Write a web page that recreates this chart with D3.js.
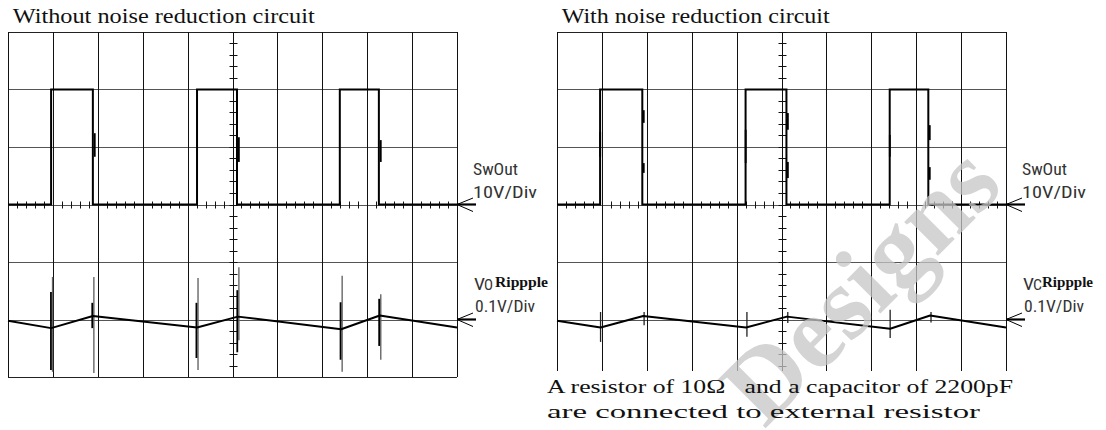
<!DOCTYPE html>
<html>
<head>
<meta charset="utf-8">
<script src="https://cdn.jsdelivr.net/npm/d3@7/dist/d3.min.js"></script>
<style>
  html, body { margin: 0; padding: 0; background: #fff; }
  svg { display: block; }
</style>
</head>
<body>
<svg id="chart" width="1106" height="430"></svg>
<script>
// ---------------- data ----------------
const panelTitles = ["Without noise reduction circuit", "With noise reduction circuit"];
const channelLabels = ["SwOut", "10V/Div", "Rippple", "0.1V/Div"];
const rippleSubscripts = ["O", "C"];
const noteLines = ["A resistor of 10\u03A9\u00A0\u00A0 and a capacitor of 2200pF", "are connected to external resistor"];
const watermarkText = "Designs";

// SwOut switching instants (time in divisions) – alternating rise / fall
const swEdgesLeft  = [0.96, 1.89, 4.21, 5.10, 7.39, 8.26];
const swEdgesRight = [0.96, 1.90, 4.20, 5.11, 7.41, 8.27];
const swHighVolt = 20;
const swLowVolt = 0;

// SwOut small edge glitches: time (div), upper / lower volts
const swGlitchTLeft  = [1.91, 5.12, 8.28];
const swGlitchHiLeft = [12.4, 11.7, 11.2];
const swGlitchLoLeft = [8.3, 7.4, 7.4];
const swGlitchTRight  = [0.94, 1.91, 1.91, 4.18, 5.12, 5.12, 7.39, 8.28, 8.28];
const swGlitchHiRight = [12.6, 16.4, 7.2, 13.0, 15.9, 7.4, 12.1, 13.8, 6.5];
const swGlitchLoRight = [8.3, 14.2, 5.5, 7.2, 13.0, 4.6, 8.3, 11.2, 4.3];

// Output ripple (mV) vs time (div)
const rippleTLeft   = [0, 0.96, 1.89, 4.21, 5.12, 7.42, 8.28, 10];
const rippleMvLeft  = [-2, -15, 6, -14, 5, -17, 7, -14];
const rippleTRight  = [0, 0.97, 1.92, 4.21, 5.12, 7.42, 8.31, 10];
const rippleMvRight = [-2, -14, 6, -14, 5, -16, 7, -14];

// Switching spikes on ripple (mV)
const spikeTLeft       = [0.97, 1.89, 4.21, 5.12, 7.42, 8.28];
const spikeGreyHiLeft  = [74, 74, 72, 91, 76, 44];
const spikeGreyLoLeft  = [-91, -93, -88, -36, -91, -70];
const spikeBlackHiLeft = [48, 29, 29, 51, 30, 36];
const spikeBlackLoLeft = [-88, -15, -67, -57, -70, -46];
const spikeTRight      = [0.97, 1.94, 4.23, 5.14, 7.42, 8.33];
const spikeHiRight     = [13, 13, 13, 13, 17, 13];
const spikeLoRight     = [-39, -10, -30, -6, -32, -5];

// ---------------- drawing ----------------
const svg = d3.select("#chart");
svg.append("rect").attr("width", 1106).attr("height", 430).attr("fill", "#fff");

const serif = "'Times New Roman', 'Liberation Serif', Tinos, Times, serif";
const narrow = "'Arial Narrow', 'Liberation Sans Narrow', 'Roboto Condensed', 'DejaVu Sans Condensed', sans-serif";

const panels = [
  { x0: 8, title: panelTitles[0], titleX: 12.7, titleW: 302, bottom: 377, border: true,
    edges: swEdgesLeft, gT: swGlitchTLeft, gHi: swGlitchHiLeft, gLo: swGlitchLoLeft,
    rT: rippleTLeft, rV: rippleMvLeft, sub: rippleSubscripts[0] },
  { x0: 557, title: panelTitles[1], titleX: 561.7, titleW: 268, bottom: 371, border: false,
    edges: swEdgesRight, gT: swGlitchTRight, gHi: swGlitchHiRight, gLo: swGlitchLoRight,
    rT: rippleTRight, rV: rippleMvRight, sub: rippleSubscripts[1] }
];

const gridTop = 32, fullBottom = 377, gridWidth = 449;

panels.forEach((p, pi) => {
  const g = svg.append("g");
  const x = d3.scaleLinear().domain([0, 10]).range([p.x0, p.x0 + gridWidth]);
  const yDiv = d3.scaleLinear().domain([-3, 3]).range([fullBottom, gridTop]);
  const ySw = d3.scaleLinear().domain([-30, 30]).range([fullBottom, gridTop]);     // 10 V/div
  const yRip = d3.scaleLinear().domain([-100, 500]).range([fullBottom, gridTop]);  // 0.1 V/div, ground at -2 div

  // title
  g.append("text").attr("x", p.titleX).attr("y", 23)
    .attr("font-family", serif).attr("font-size", 21).attr("fill", "#111")
    .attr("textLength", p.titleW).attr("lengthAdjust", "spacingAndGlyphs")
    .text(p.title);

  // horizontal grid
  const hDivs = d3.range(-3, 3.001, 1).filter(d => p.border || d > -3);
  g.selectAll(".hg").data(hDivs).enter().append("line")
    .attr("x1", x(0)).attr("x2", x(10))
    .attr("y1", d => Math.round(yDiv(d)) + 0.5).attr("y2", d => Math.round(yDiv(d)) + 0.5)
    .attr("stroke", d => (d === 3 || d === -3) ? "#222" : "#555").attr("stroke-width", 1.2);

  // vertical grid
  g.selectAll(".vg").data(x.ticks(10)).enter().append("line")
    .attr("x1", d => Math.round(x(d)) + 0.5).attr("x2", d => Math.round(x(d)) + 0.5)
    .attr("y1", gridTop).attr("y2", p.bottom)
    .attr("stroke", "#111").attr("stroke-width", 1);

  // minor ticks: center vertical axis
  const cx = Math.round(x(5)) + 0.5;
  g.selectAll(".mtv").data(d3.range(-3, 3.001, 0.2).filter(d => yDiv(d) <= p.bottom - 3)).enter().append("line")
    .attr("x1", cx - 4).attr("x2", cx + 4)
    .attr("y1", d => Math.round(yDiv(d)) + 0.5).attr("y2", d => Math.round(yDiv(d)) + 0.5)
    .attr("stroke", "#111").attr("stroke-width", 1);
  // minor ticks: center horizontal axis
  const cy = Math.round(yDiv(0)) + 0.5;
  g.selectAll(".mth").data(d3.range(0, 10.001, 0.2)).enter().append("line")
    .attr("x1", d => Math.round(x(d)) + 0.5).attr("x2", d => Math.round(x(d)) + 0.5)
    .attr("y1", cy - 4).attr("y2", cy + 3)
    .attr("stroke", "#111").attr("stroke-width", 1);

  // SwOut trace
  const swPts = [[0, swLowVolt]];
  p.edges.forEach((t, i) => {
    const from = i % 2 === 0 ? swLowVolt : swHighVolt;
    const to = i % 2 === 0 ? swHighVolt : swLowVolt;
    swPts.push([t, from], [t, to]);
  });
  swPts.push([10, swLowVolt]);
  const swLine = d3.line().x(d => x(d[0])).y(d => ySw(d[1]));
  g.append("path").attr("d", swLine(swPts)).attr("fill", "none")
    .attr("stroke", "#000").attr("stroke-width", 2).attr("stroke-linejoin", "miter");

  // SwOut glitches
  g.selectAll(".gl").data(p.gT).enter().append("line")
    .attr("x1", d => x(d) + 1).attr("x2", d => x(d) + 1)
    .attr("y1", (d, i) => ySw(p.gHi[i])).attr("y2", (d, i) => ySw(p.gLo[i]))
    .attr("stroke", "#000").attr("stroke-width", 1.8);

  // ripple spikes
  if (pi === 0) {
    g.selectAll(".sg").data(spikeTLeft).enter().append("line")
      .attr("x1", d => x(d) + 1).attr("x2", d => x(d) + 1)
      .attr("y1", (d, i) => yRip(spikeGreyHiLeft[i])).attr("y2", (d, i) => yRip(spikeGreyLoLeft[i]))
      .attr("stroke", "#666").attr("stroke-width", 1.4);
    g.selectAll(".sb").data(spikeTLeft).enter().append("line")
      .attr("x1", d => x(d) - 0.6).attr("x2", d => x(d) - 0.6)
      .attr("y1", (d, i) => yRip(spikeBlackHiLeft[i])).attr("y2", (d, i) => yRip(spikeBlackLoLeft[i]))
      .attr("stroke", "#000").attr("stroke-width", 1.8);
  } else {
    g.selectAll(".sr").data(spikeTRight).enter().append("line")
      .attr("x1", d => x(d)).attr("x2", d => x(d))
      .attr("y1", (d, i) => yRip(spikeHiRight[i])).attr("y2", (d, i) => yRip(spikeLoRight[i]))
      .attr("stroke", "#222").attr("stroke-width", 1.3);
  }

  // ripple trace
  const rLine = d3.line().x(d => x(d[0])).y(d => yRip(d[1]));
  g.append("path").attr("d", rLine(p.rT.map((t, i) => [t, p.rV[i]]))).attr("fill", "none")
    .attr("stroke", "#000").attr("stroke-width", 2).attr("stroke-linejoin", "round");

  // ground markers (arrows)
  const ax = x(10);
  [ySw(0), yRip(0)].forEach(yy => {
    g.append("line").attr("x1", ax).attr("x2", ax + 19).attr("y1", yy).attr("y2", yy)
      .attr("stroke", "#000").attr("stroke-width", 2.2);
    g.append("path").attr("d", `M${ax + 16},${yy - 6.5}L${ax},${yy}L${ax + 16},${yy + 7}`)
      .attr("fill", "none").attr("stroke", "#000").attr("stroke-width", 1);
  });

  // channel labels
  const lx = ax + 16;
  const lab = g.append("g").attr("font-family", narrow).attr("fill", "#333");
  lab.append("text").attr("x", lx).attr("y", 175).attr("font-size", 17)
    .attr("textLength", 45).attr("lengthAdjust", "spacingAndGlyphs").text(channelLabels[0]);
  lab.append("text").attr("x", lx).attr("y", 198).attr("font-size", 17)
    .attr("textLength", 64).attr("lengthAdjust", "spacingAndGlyphs").text(channelLabels[1]);
  lab.append("text").attr("x", lx + 1).attr("y", 290).attr("font-size", 17)
    .attr("textLength", 11).attr("lengthAdjust", "spacingAndGlyphs").text("V");
  lab.append("text").attr("x", lx + 11).attr("y", 290).attr("font-size", 14)
    .attr("textLength", 9).attr("lengthAdjust", "spacingAndGlyphs").text(p.sub);
  g.append("text").attr("x", lx + (pi === 0 ? 22 : 20)).attr("y", 287)
    .attr("font-family", serif).attr("font-weight", "bold").attr("font-size", 15).attr("fill", "#111")
    .attr("textLength", pi === 0 ? 53 : 51).attr("lengthAdjust", "spacingAndGlyphs").text(channelLabels[2]);
  lab.append("text").attr("x", lx + 2).attr("y", 312).attr("font-size", 17)
    .attr("textLength", 60).attr("lengthAdjust", "spacingAndGlyphs").text(channelLabels[3]);
});

// watermark (drawn over the grids, under the note text)
svg.append("text").attr("transform", "translate(868,292) rotate(-45)")
  .attr("text-anchor", "middle").attr("dominant-baseline", "middle")
  .attr("font-family", serif).attr("font-weight", "bold").attr("font-size", 104)
  .attr("fill", "#c6c6c6").attr("opacity", 0.75).text(watermarkText);

// note text under right panel
svg.append("text").attr("x", 547).attr("y", 393)
  .attr("font-family", serif).attr("font-size", 19).attr("fill", "#111")
  .attr("textLength", 466).attr("lengthAdjust", "spacingAndGlyphs").text(noteLines[0]);
svg.append("text").attr("x", 547).attr("y", 418)
  .attr("font-family", serif).attr("font-size", 19).attr("fill", "#111")
  .attr("textLength", 433).attr("lengthAdjust", "spacingAndGlyphs").text(noteLines[1]);
</script>
</body>
</html>
